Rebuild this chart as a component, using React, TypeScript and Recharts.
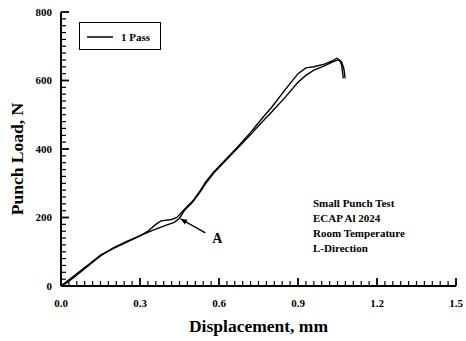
import { LineChart, Line, XAxis, YAxis, ReferenceLine } from 'recharts';

document.body.style.margin = '0';

const FONT = '"Liberation Serif", "Times New Roman", serif';

// displacement (mm) / punch load (N), two traces of the 1-pass specimen
const pass1aDisp = [0, 0.02, 0.05, 0.1, 0.15, 0.2, 0.25, 0.3, 0.33, 0.36, 0.38, 0.42, 0.44, 0.47, 0.5, 0.53, 0.55, 0.58, 0.62, 0.67, 0.72, 0.76, 0.8, 0.85, 0.9, 0.93, 0.96, 1.0, 1.03, 1.047, 1.058, 1.066, 1.072];
const pass1aLoad = [0, 12, 30, 60, 90, 110, 128, 146, 160, 180, 190, 194, 200, 225, 248, 280, 305, 333, 365, 405, 448, 486, 522, 572, 620, 637, 640, 648, 657, 665, 660, 645, 606];

const pass1bDisp = [0, 0.02, 0.05, 0.1, 0.15, 0.2, 0.25, 0.3, 0.35, 0.4, 0.43, 0.45, 0.47, 0.5, 0.53, 0.55, 0.58, 0.62, 0.67, 0.72, 0.76, 0.8, 0.85, 0.9, 0.93, 0.96, 1.0, 1.034, 1.053, 1.065, 1.074, 1.079];
const pass1bLoad = [0, 8, 26, 57, 88, 112, 130, 147, 163, 178, 186, 198, 222, 245, 276, 300, 330, 362, 402, 442, 476, 508, 550, 595, 615, 630, 643, 655, 660, 655, 635, 606];

const xMajorLabels = ['0.0', '0.3', '0.6', '0.9', '1.2', '1.5'];
const yMajorLabels = ['0', '200', '400', '600', '800'];
const xMinorPerMajor = 10;
const yMinorPerMajor = 10;

const noteLines = ['Small Punch Test', 'ECAP Al 2024', 'Room Temperature', 'L-Direction'];

const toPoints = (disp: number[], load: number[]) => disp.map((d, i) => ({ disp: d, load: load[i] }));
const trace1 = toPoints(pass1aDisp, pass1aLoad);
const trace2 = toPoints(pass1bDisp, pass1bLoad);

const xMax = Number(xMajorLabels[xMajorLabels.length - 1]);
const yMax = Number(yMajorLabels[yMajorLabels.length - 1]);
const xMajorTicks = xMajorLabels.map(Number);
const yMajorTicks = yMajorLabels.map(Number);
const xStep = xMax / ((xMajorLabels.length - 1) * xMinorPerMajor);
const yStep = yMax / ((yMajorLabels.length - 1) * yMinorPerMajor);
const xAllTicks = Array.from({ length: (xMajorLabels.length - 1) * xMinorPerMajor + 1 }, (_, i) => +(i * xStep).toFixed(3));
const yAllTicks = Array.from({ length: (yMajorLabels.length - 1) * yMinorPerMajor + 1 }, (_, i) => +(i * yStep).toFixed(3));

const labelStyle = { fontFamily: FONT, fontWeight: 700, fontSize: 11, fill: '#000' };

// inward tick marks sit on the frame edge of a full-height / full-width reference line
function XTickMark(props: any) {
  const { x1, y1, y2, major } = props;
  const w = major ? 1.8 : 1.2;
  const h = major ? 8 : 5;
  const base = Math.max(y1, y2);
  return <rect x={x1 - w / 2} y={base - h} width={w} height={h} fill="#000" />;
}

function YTickMark(props: any) {
  const { x1, x2, y1, major } = props;
  const w = major ? 8 : 5;
  const h = major ? 1.8 : 1.2;
  const base = Math.min(x1, x2);
  return <rect x={base} y={y1 - h / 2} width={w} height={h} fill="#000" />;
}

function ArrowA(props: any) {
  const { x1, y1, x2, y2 } = props;
  const ang = Math.atan2(y2 - y1, x2 - x1);
  const len = 7;
  const spread = 0.4;
  const ax = x2 - len * Math.cos(ang - spread);
  const ay = y2 - len * Math.sin(ang - spread);
  const bx = x2 - len * Math.cos(ang + spread);
  const by = y2 - len * Math.sin(ang + spread);
  return (
    <g>
      <line x1={x1} y1={y1} x2={x2} y2={y2} stroke="#000" strokeWidth={1.3} />
      <polygon points={`${x2},${y2} ${ax},${ay} ${bx},${by}`} fill="#000" />
      <text x={x1 + 7} y={y1 + 10} style={{ ...labelStyle, fontSize: 14 }}>A</text>
    </g>
  );
}

function XTitle(props: any) {
  const { viewBox } = props;
  return (
    <text x={viewBox.x + viewBox.width / 2} y={viewBox.y + 46} textAnchor="middle" style={{ ...labelStyle, fontSize: 17.5 }}>
      Displacement, mm
    </text>
  );
}

function YTitle(props: any) {
  const { viewBox } = props;
  const cx = 23;
  const cy = viewBox.y + viewBox.height / 2 + 10;
  return (
    <text x={cx} y={cy} transform={`rotate(-90 ${cx} ${cy})`} textAnchor="middle" style={{ ...labelStyle, fontSize: 17.5 }}>
      Punch Load, N
    </text>
  );
}

export default function App() {
  return (
    <div style={{ position: 'relative', width: 466, height: 341, background: '#fff' }}>
      <LineChart width={466} height={341} margin={{ top: 12, right: 10, bottom: 0, left: 0 }}>
        <XAxis
          dataKey="disp"
          type="number"
          domain={[0, xMax]}
          ticks={xMajorTicks}
          interval={0}
          height={55}
          tickSize={0}
          tickMargin={13}
          tickLine={false}
          tickFormatter={(v: number) => v.toFixed(1)}
          tick={labelStyle}
          axisLine={{ stroke: '#000', strokeWidth: 2 }}
          allowDataOverflow
          label={<XTitle />}
        />
        {/* top and right frame */}
        <XAxis xAxisId="top" orientation="top" type="number" domain={[0, xMax]} height={0} tick={false} tickLine={false} axisLine={{ stroke: '#000', strokeWidth: 2 }} />
        <YAxis yAxisId="right" orientation="right" type="number" domain={[0, yMax]} width={0} tick={false} tickLine={false} axisLine={{ stroke: '#000', strokeWidth: 2 }} />
        <YAxis
          dataKey="load"
          type="number"
          domain={[0, yMax]}
          ticks={yMajorTicks}
          interval={0}
          width={61}
          tickSize={0}
          tickMargin={9}
          tickLine={false}
          tick={labelStyle}
          axisLine={{ stroke: '#000', strokeWidth: 2 }}
          allowDataOverflow
          label={<YTitle />}
        />
        {xAllTicks.map((v, i) => (
          <ReferenceLine key={`xt${i}`} x={v} shape={<XTickMark major={i % xMinorPerMajor === 0} />} />
        ))}
        {yAllTicks.map((v, i) => (
          <ReferenceLine key={`yt${i}`} y={v} shape={<YTickMark major={i % yMinorPerMajor === 0} />} />
        ))}
        <Line data={trace1} dataKey="load" type="linear" stroke="#000" strokeWidth={1.4} dot={false} isAnimationActive={false} />
        <Line data={trace2} dataKey="load" type="linear" stroke="#000" strokeWidth={1.4} dot={false} isAnimationActive={false} />
        <ReferenceLine
          segment={[
            { x: 0.548, y: 155 },
            { x: 0.454, y: 196 },
          ]}
          shape={<ArrowA />}
        />
      </LineChart>

      <div
        style={{
          position: 'absolute',
          left: 79,
          top: 22,
          width: 82,
          height: 28,
          border: '1.3px solid #000',
          boxSizing: 'border-box',
          background: '#fff',
        }}
      >
        <svg width={82} height={28} style={{ position: 'absolute', left: 0, top: 0 }}>
          <line x1={7} y1={14} x2={33} y2={14} stroke="#000" strokeWidth={1.5} />
          <text x={41} y={18} style={labelStyle}>1 Pass</text>
        </svg>
      </div>

      <div
        style={{
          position: 'absolute',
          left: 313,
          top: 196,
          fontFamily: FONT,
          fontWeight: 700,
          fontSize: 11,
          lineHeight: '15px',
          color: '#000',
          whiteSpace: 'nowrap',
        }}
      >
        {noteLines.map(t => (
          <div key={t}>{t}</div>
        ))}
      </div>
    </div>
  );
}
